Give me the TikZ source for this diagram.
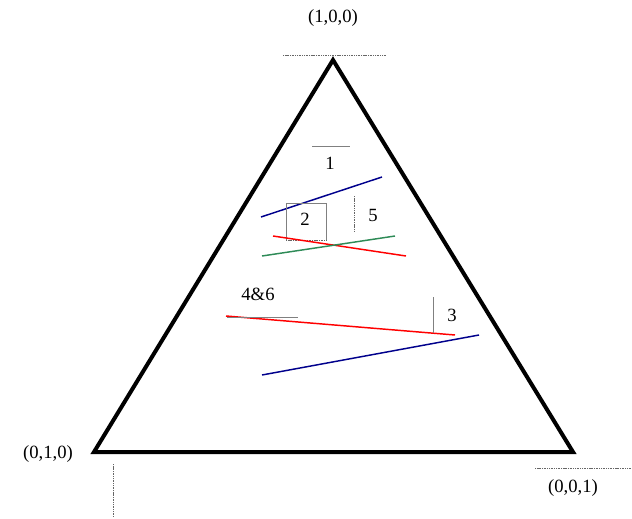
\documentclass[tikz,border=0pt]{standalone}
\usepackage{fontspec}
\setmainfont{Liberation Serif}
\usetikzlibrary{positioning}
\definecolor{ternblue}{RGB}{0,0,140}
\definecolor{terngreen}{RGB}{46,139,87}
\tikzset{
  ternedge/.style={line width=3pt, line join=miter},
  ternguide/.style={draw=gray, line width=0.6pt},
  terndot/.style={draw=gray!80!black, line width=0.5pt, dash pattern=on 0.8pt off 0.5pt},
  ternlabel/.style={font=\fontsize{14}{16}\selectfont, inner sep=0pt},
}

\begin{document}
\begin{tikzpicture}[
  x=0.75pt, y=-0.75pt,
  trend/.style={line width=1.1pt},
]
  \useasboundingbox (0,0) rectangle (632,518);

  % Corners of the triangle
  \coordinate (top) at (333,60);
  \coordinate (left) at (94,452);
  \coordinate (right) at (573,452);
  \draw[ternedge] (top) -- (left) -- (right) -- cycle;

  % Corner labels
  \node[ternlabel] (ltop) at (333,18) {(1,0,0)};
  \node[ternlabel] (lleft) at (48,454) {(0,1,0)};
  \node[ternlabel] (lright) at (573,488) {(0,0,1)};
  \draw[terndot] (283,55) -- (386,55);
  \draw[terndot] (113,464) -- (113,517);
  \draw[terndot] (535,468) -- (632,468);

  % Upper group
  \node[ternlabel] (n1) at (330,163) {1};
  \draw[ternguide] (312,146) -- (350,146);
  \draw[trend, ternblue] (261,217) -- (382,177);
  \node[ternlabel] (n2) at (305,219) {2};
  \draw[ternguide] (286,240) -- (286,203) -- (326,203) -- (326,240);
  \draw[terndot] (286,240) -- (326,240);
  \draw[terndot] (354,196) -- (354,232);
  \node[ternlabel] (n5) at (373,215) {5};
  \draw[trend, red] (273,236) -- (406,256);
  \draw[trend, terngreen] (262,256) -- (395,236);

  % Lower group
  \node[ternlabel] (n46) at (258,294) {4\&6};
  \draw[trend, red] (226,316) -- (455,335);
  \draw[ternguide] (227,317) -- (298,317);
  \draw[ternguide] (433,297) -- (433,333);
  \node[ternlabel] (n3) at (452,315) {3};
  \draw[trend, ternblue] (262,375) -- (479,335);

\end{tikzpicture}
\end{document}
